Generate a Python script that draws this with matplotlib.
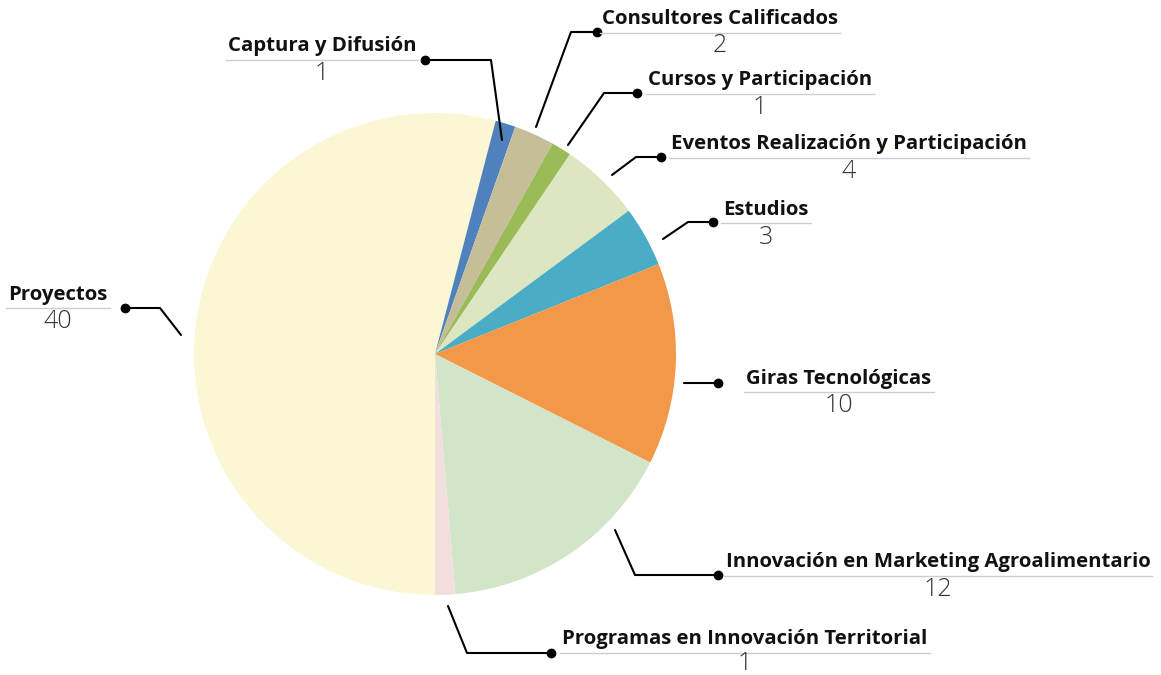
import numpy as np
import matplotlib
matplotlib.use('Agg')
import matplotlib.pyplot as plt

# Data (clockwise from the bottom of the pie)
labels = ['Proyectos', 'Captura y Difusión', 'Consultores Calificados', 'Cursos y Participación',
          'Eventos Realización y Participación', 'Estudios', 'Giras Tecnológicas',
          'Innovación en Marketing Agroalimentario', 'Programas en Innovación Territorial']
values = [40, 1, 2, 1, 4, 3, 10, 12, 1]
colors = ['#FBF7D5', '#4F81BD', '#C6BE98', '#9BBB59', '#DCE6C0', '#4BACC6', '#F39849', '#D2E5C8', '#F3DEDE']

W, H = 1161, 675

# Layout in pixel coords (top-left origin)
leaders = [
    [(181, 335), (160, 308), (125, 308)],
    [(502, 140), (491, 60), (425, 60)],
    [(536, 127), (571, 32), (597, 32)],
    [(568, 145), (604, 93), (637, 93)],
    [(612, 175), (636, 157), (661, 157)],
    [(663, 239), (688, 222), (713, 222)],
    [(684, 383), (718, 383)],
    [(615, 530), (635, 575), (718, 575)],
    [(448, 606), (467, 653), (551, 653)],
]
# label center x, name y, underline y, value y
label_pos = [
    (58, 295, 308, 322),
    (322, 46, 60, 73),
    (720, 19, 33, 45),
    (760, 80, 94, 107),
    (849, 144, 158, 171),
    (766, 210, 223, 237),
    (839, 379, 392, 406),
    (938, 562, 576, 589),
    (745, 639, 653, 664),
]

def fy(y):
    return H - y

fig = plt.figure(figsize=(W / 100, H / 100), dpi=100)
ax = fig.add_axes([0, 0, 1, 1])

ax.pie(values, colors=colors, startangle=270, counterclock=False,
       center=(435, fy(354)), radius=241, frame=True,
       wedgeprops=dict(linewidth=0))
ax.set_xlim(0, W)
ax.set_ylim(0, H)
ax.set_aspect('equal')
ax.axis('off')

fig.canvas.draw()
renderer = fig.canvas.get_renderer()

for lab, val, pts, (cx, yn, yl, yv) in zip(labels, values, leaders, label_pos):
    xs = [p[0] for p in pts]
    ys = [fy(p[1]) for p in pts]
    ax.plot(xs, ys, color='black', lw=1.5, solid_capstyle='round')
    ax.plot(xs[-1], ys[-1], 'o', color='black', markersize=6)
    t = ax.text(cx, fy(yn), lab, ha='center', va='center', fontsize=14.7,
                fontweight='bold', family='Open Sans', color='#111111')
    ax.text(cx, fy(yv), str(val), ha='center', va='center', fontsize=18,
            fontweight='light', family='Open Sans', color='#333333')
    bb = t.get_window_extent(renderer=renderer).transformed(ax.transData.inverted())
    ax.plot([bb.x0 - 2, bb.x1 + 2], [fy(yl), fy(yl)], color='#CCCADD', lw=1)

fig.savefig('out.png', dpi=100)
